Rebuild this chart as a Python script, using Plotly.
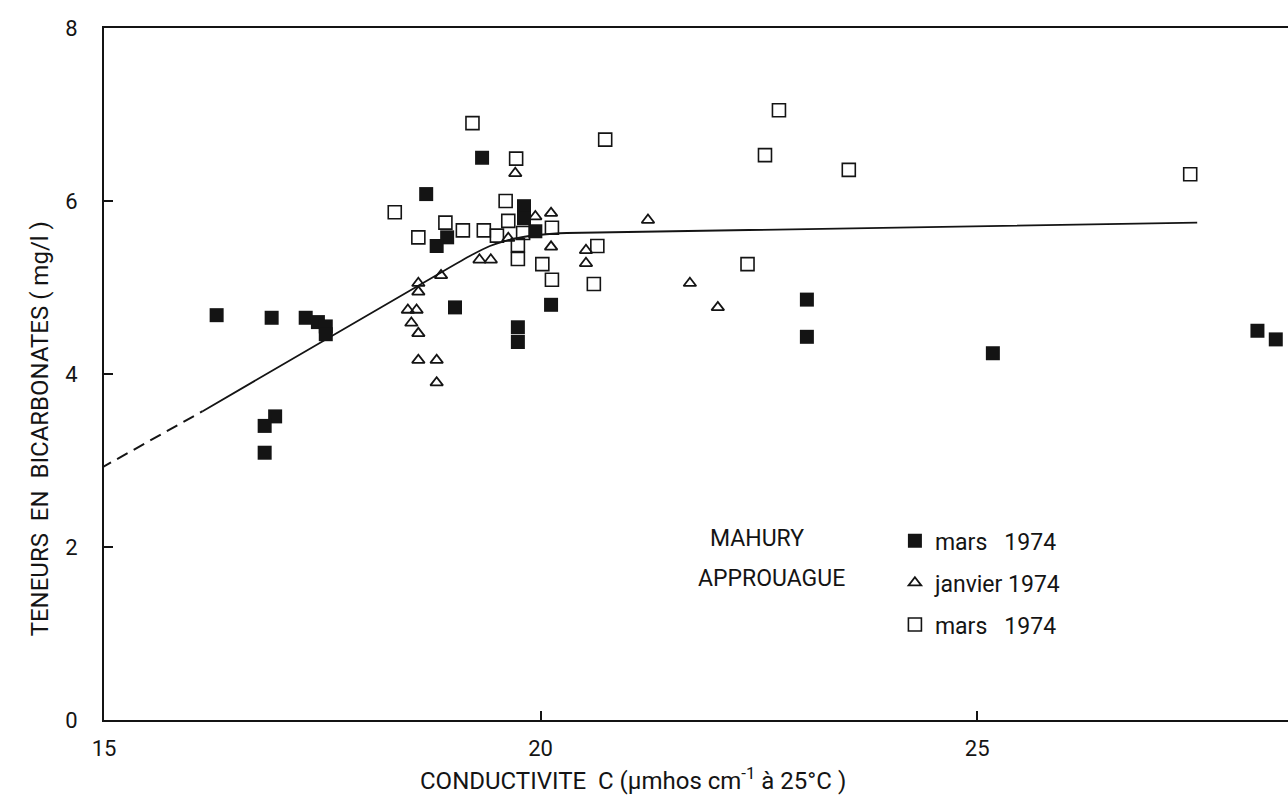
import plotly.graph_objects as go

# Mahury, mars 1974 (filled squares)
mahury_x = [16.29, 16.92, 17.31, 17.45, 17.54, 17.54, 16.96, 16.84, 16.84,
            19.33, 18.69, 18.93, 18.81, 19.81, 19.81, 19.94, 19.02, 20.12,
            19.74, 19.74, 23.05, 23.05, 25.18, 28.21, 28.42]
mahury_y = [4.68, 4.65, 4.65, 4.60, 4.55, 4.46, 3.51, 3.40, 3.09,
            6.50, 6.08, 5.58, 5.48, 5.94, 5.80, 5.65, 4.77, 4.80,
            4.54, 4.37, 4.86, 4.43, 4.24, 4.50, 4.40]

# Approuague, janvier 1974 (open triangles)
janv_x = [19.71, 19.94, 20.12, 21.23, 19.63, 20.12, 20.52, 20.52, 19.30, 19.43,
          18.86, 18.60, 18.60, 18.48, 18.58, 18.52, 18.60, 18.60, 18.81, 18.81,
          21.71, 22.03]
janv_y = [6.32, 5.82, 5.86, 5.78, 5.57, 5.47, 5.43, 5.28, 5.32, 5.32,
          5.14, 5.05, 4.95, 4.74, 4.74, 4.59, 4.47, 4.16, 4.16, 3.90,
          5.05, 4.77]

# Approuague, mars 1974 (open squares)
mars_x = [19.22, 20.74, 19.72, 18.33, 19.60, 19.63, 18.91, 18.60, 19.11, 19.35,
          19.50, 19.80, 19.74, 19.74, 20.13, 20.02, 20.13, 20.65, 20.61,
          22.73, 22.57, 23.53, 22.37, 27.44]
mars_y = [6.90, 6.71, 6.49, 5.87, 6.00, 5.77, 5.75, 5.58, 5.66, 5.66,
          5.60, 5.63, 5.49, 5.33, 5.69, 5.27, 5.09, 5.48, 5.04,
          7.05, 6.53, 6.36, 5.27, 6.31]

# Trend curve (dashed extrapolation, then solid)
dash_x = [14.96, 16.13]
dash_y = [2.91, 3.57]
curve_x = [16.13, 18.87, 19.2, 19.42, 19.6, 19.77, 20.0, 20.3, 27.52]
curve_y = [3.57, 5.18, 5.37, 5.48, 5.54, 5.58, 5.61, 5.63, 5.75]

x_ticks = [15, 20, 25]
y_ticks = [0, 2, 4, 6, 8]

INK = "#141414"
FONT = "Roboto, Arial, sans-serif"
NB = "\u00a0"

fig = go.Figure()
fig.add_trace(go.Scatter(x=dash_x, y=dash_y, mode="lines", showlegend=False,
                         line=dict(color=INK, width=2, dash="12px,7px"), hoverinfo="skip"))
fig.add_trace(go.Scatter(x=curve_x, y=curve_y, mode="lines", showlegend=False,
                         line=dict(color=INK, width=1.8, shape="spline", smoothing=0.4),
                         hoverinfo="skip"))
fig.add_trace(go.Scatter(x=mars_x, y=mars_y, mode="markers", name="mars" + NB * 3 + "1974",
                         legendgroup="c", legendrank=3,
                         marker=dict(symbol="square-open", size=13, color=INK,
                                     line=dict(width=1.6, color=INK))))
fig.add_trace(go.Scatter(x=janv_x, y=janv_y, mode="markers", name="janvier" + NB + "1974",
                         legendgroup="b", legendrank=2,
                         marker=dict(symbol="triangle-up-open", size=11, color=INK,
                                     line=dict(width=1.8, color=INK))))
fig.add_trace(go.Scatter(x=mahury_x, y=mahury_y, mode="markers", name="mars" + NB * 3 + "1974",
                         legendgroup="a", legendrank=1,
                         marker=dict(symbol="square", size=14, color=INK)))

PLOT_L, PLOT_W = 104, 1184

fig.update_layout(
    width=1288, height=808,
    margin=dict(l=PLOT_L, r=0, t=28, b=88),
    paper_bgcolor="white", plot_bgcolor="white",
    font=dict(family=FONT, color=INK, size=20),
    xaxis=dict(range=[15, 28.56], tickvals=x_ticks, ticks="inside", ticklen=9,
               tickwidth=1.5, tickcolor=INK, showline=True, linecolor=INK, linewidth=2,
               mirror=True, showgrid=False, zeroline=False,
               tickfont=dict(size=22), ticklabelstandoff=8),
    yaxis=dict(range=[0, 8], tickvals=y_ticks, ticks="inside", ticklen=9,
               tickwidth=1.5, tickcolor=INK, showline=True, linecolor=INK, linewidth=2,
               showgrid=False, zeroline=False, tickfont=dict(size=22),
               ticklabelstandoff=20),
    legend=dict(x=0.668, y=0.29, xanchor="left", yanchor="top",
                font=dict(size=23, family=FONT), bgcolor="rgba(0,0,0,0)",
                tracegroupgap=9, itemwidth=30),
    annotations=[
        dict(text="CONDUCTIVITE" + NB * 2 + "C" + NB + "(µmhos" + NB + "cm<sup>-1</sup>" + NB + "à" + NB + "25°C" + NB + ")",
             x=(633 - PLOT_L) / PLOT_W, y=-0.085, xref="paper", yref="paper",
             xanchor="center", yanchor="middle", showarrow=False, font=dict(size=24)),
        dict(text="TENEURS" + NB * 2 + "EN" + NB * 2 + "BICARBONATES" + NB + "(" + NB + "mg/l" + NB + ")",
             x=(40 - PLOT_L) / PLOT_W, y=0.42, xref="paper", yref="paper", textangle=-90,
             xanchor="center", yanchor="middle", showarrow=False, font=dict(size=24)),
        dict(text="MAHURY", x=(708 - PLOT_L) / PLOT_W, y=0.285, xref="paper", yref="paper",
             xanchor="left", yanchor="top", showarrow=False, font=dict(size=23)),
        dict(text="APPROUAGUE", x=(696 - PLOT_L) / PLOT_W, y=0.227, xref="paper", yref="paper",
             xanchor="left", yanchor="top", showarrow=False, font=dict(size=23)),
    ],
)

fig.write_html("out.html")
